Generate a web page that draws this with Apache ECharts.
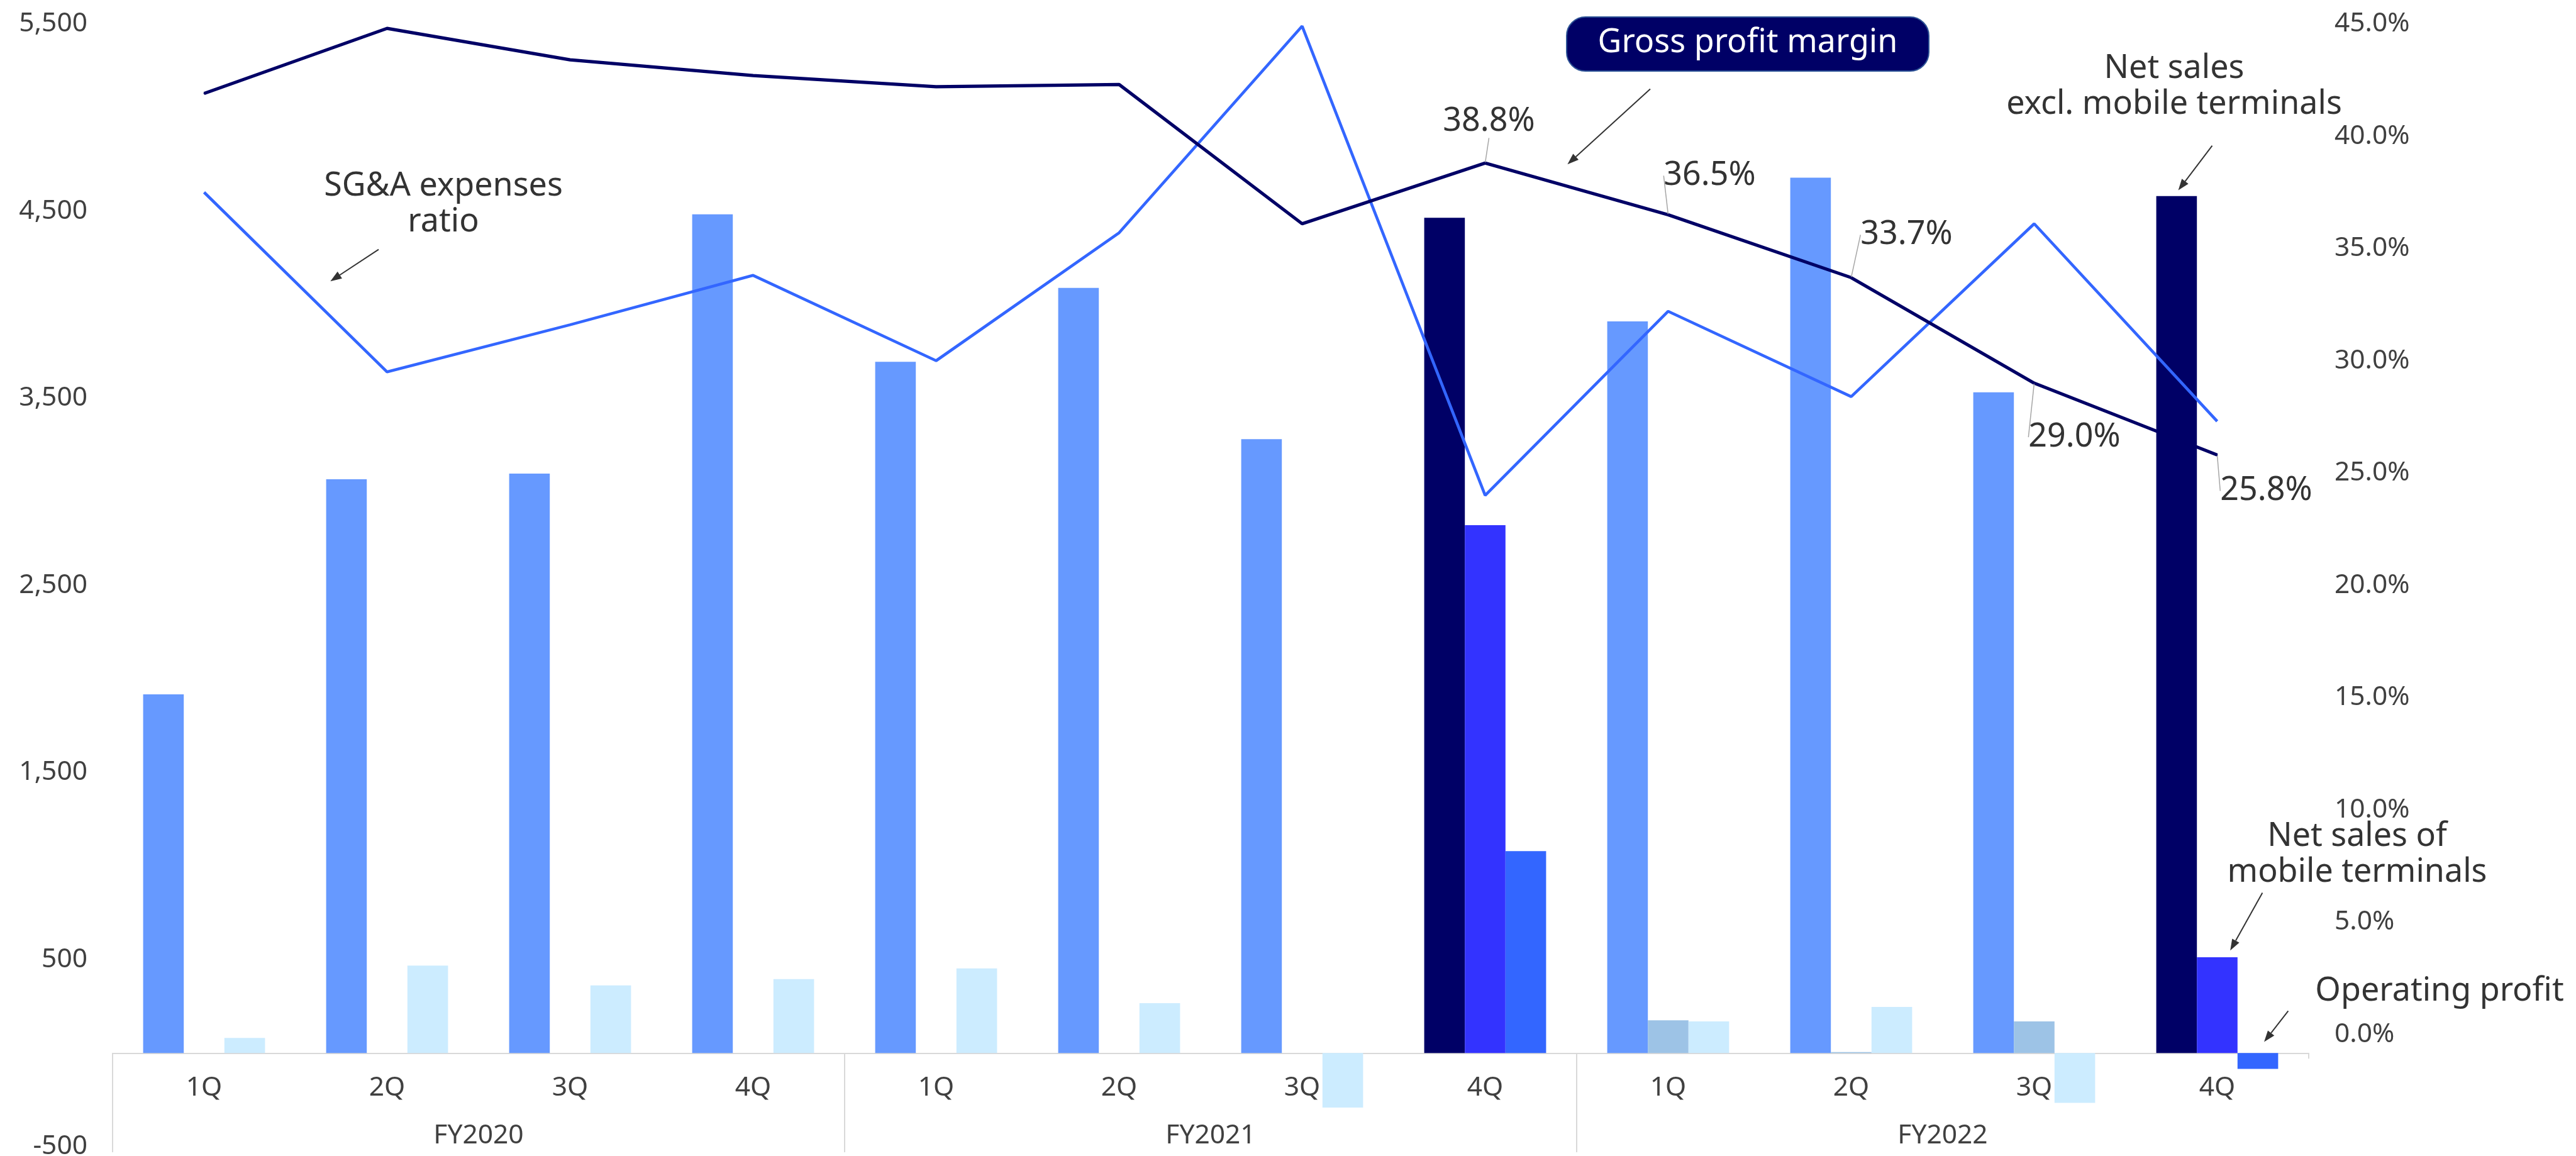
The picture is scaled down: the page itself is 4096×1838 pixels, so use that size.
<!DOCTYPE html>
<html>
<head>
<meta charset="utf-8">
<title>Quarterly results</title>
<script src="https://cdn.jsdelivr.net/npm/echarts@6.0.0/dist/echarts.min.js"></script>
<style>
  html, body { margin: 0; padding: 0; background: #ffffff; }
  #chart { width: 4096px; height: 1838px; }
</style>
</head>
<body>
<div id="chart"></div>
<script>
// ---- data ----
const fiscalYears = ['FY2020', 'FY2021', 'FY2022'];
const quarters = ['1Q', '2Q', '3Q', '4Q'];
const periods = fiscalYears.flatMap(fy => quarters.map(q => fy + ' ' + q));

// amounts (left axis)
const netSalesExclMobile = [1917, 3066, 3097, 4482, 3694, 4089, 3281, 4464, 3910, 4678, 3531, 4580];
const netSalesMobile     = [null, null, null, null, null, null, null, 2821, 175, 5, 169, 512];
const operatingProfit    = [81, 467, 361, 395, 452, 266, -292, 1079, 169, 246, -266, -85];

// ratios in % (right axis)
const grossProfitMargin = [41.9, 44.8, 43.4, 42.7, 42.2, 42.3, 36.1, 38.8, 36.5, 33.7, 29.0, 25.8];
const sgaExpensesRatio  = [37.5, 29.5, 31.6, 33.8, 30.0, 35.7, 44.9, 24.0, 32.2, 28.4, 36.1, 27.3];

// tick labels
const amountTicks = [-500, 500, 1500, 2500, 3500, 4500, 5500];
const ratioTicks = [0, 5, 10, 15, 20, 25, 30, 35, 40, 45];

// periods drawn in the stronger palette
const highlightedPeriods = ['FY2021 4Q', 'FY2022 4Q'];

// ---- styling ----
const FONT = '"Noto Sans", "Open Sans", sans-serif';
const TEXT = '#333333';
const AXIS_TEXT = '#404040';
const RULE = '#d9d9d9';

// where the gross-margin value labels sit relative to their point (dx, dy)
const marginLabelOffsets = {
  7: [6, -66],
  8: [66, -62],
  9: [88, -68],
  10: [64, 86],
  11: [78, 57]
};

const isHighlighted = i => highlightedPeriods.includes(periods[i]);
const barItems = (values, strong, soft) =>
  values.map((v, i) => ({ value: v, itemStyle: { color: isHighlighted(i) ? strong : soft } }));

// arrow = shaft + filled head, from tail to tip
function arrow(tail, tip) {
  const [x1, y1] = tail, [x2, y2] = tip;
  const a = Math.atan2(y2 - y1, x2 - x1);
  const L = 18, W = 6.5;
  const bx = x2 - L * Math.cos(a), by = y2 - L * Math.sin(a);
  return [
    { type: 'line', silent: true, shape: { x1, y1, x2: bx, y2: by },
      style: { stroke: TEXT, lineWidth: 2 } },
    { type: 'polygon', silent: true,
      shape: { points: [[x2, y2], [bx + W * Math.sin(a), by - W * Math.cos(a)], [bx - W * Math.sin(a), by + W * Math.cos(a)]] },
      style: { fill: TEXT } }
  ];
}

function note(text, x, y, color) {
  return {
    type: 'text', silent: true, x, y, z: 10,
    style: { text, fontSize: 52, fontFamily: FONT, fill: color || TEXT,
             align: 'center', verticalAlign: 'middle', lineHeight: 57 }
  };
}

// label positions along the period axis: centre of each quarter / each fiscal year
const quarterCentres = periods.map((_, i) => i + 0.5);
const yearCentres = fiscalYears.map((_, i) => i * quarters.length + quarters.length / 2);
const yearBoundaries = fiscalYears.map((_, i) => i * quarters.length);

const chart = echarts.init(document.getElementById('chart'), null, { renderer: 'canvas' });

const option = {
  animation: false,
  backgroundColor: '#ffffff',
  textStyle: { fontFamily: FONT },
  grid: { left: 179, right: 425, top: 38, bottom: 15, containLabel: false, outerBoundsMode: 'none' },
  xAxis: [
    {
      // period axis carrying the bars and lines, drawn along zero
      type: 'category',
      data: periods,
      position: 'bottom',
      boundaryGap: true,
      axisLine: { show: true, onZero: true, onZeroAxisIndex: 0, lineStyle: { color: RULE, width: 2 } },
      axisTick: { show: true, length: 9, interval: i => i === periods.length - 1, lineStyle: { color: RULE, width: 2 } },
      axisLabel: { show: false },
      splitLine: { show: false }
    },
    {
      // fiscal-year grouping row with separators between the years
      type: 'value',
      position: 'bottom',
      offset: 9,
      min: 0,
      max: periods.length,
      axisLine: { show: false, onZero: false },
      splitLine: { show: false },
      axisTick: {
        show: true, inside: true, length: 158,
        lineStyle: { color: RULE, width: 2 },
        customValues: yearBoundaries
      },
      axisLabel: {
        inside: true, margin: 4.5, fontSize: 42.5, color: AXIS_TEXT, fontFamily: FONT,
        customValues: yearCentres,
        formatter: v => fiscalYears[Math.floor(v / quarters.length)] || ''
      }
    },
    {
      // quarter names, just under the zero line
      type: 'value',
      position: 'bottom',
      offset: -149,
      min: 0,
      max: periods.length,
      axisLine: { show: false, onZero: false },
      axisTick: { show: false },
      splitLine: { show: false },
      axisLabel: {
        margin: 34, fontSize: 42.5, color: AXIS_TEXT, fontFamily: FONT,
        customValues: quarterCentres,
        formatter: v => quarters[Math.floor(v) % quarters.length]
      }
    }
  ],
  yAxis: [
    {
      type: 'value', position: 'left', min: -500, max: 5500, interval: 500,
      axisLine: { show: false, onZero: false }, axisTick: { show: false }, splitLine: { show: false },
      axisLabel: { margin: 40, fontSize: 42.5, color: AXIS_TEXT, fontFamily: FONT,
                   formatter: v => amountTicks.includes(v) ? v.toLocaleString('en-US') : '' }
    },
    {
      type: 'value', position: 'right', min: -5, max: 45, interval: 5,
      axisLine: { show: false, onZero: false }, axisTick: { show: false }, splitLine: { show: false },
      axisLabel: { margin: 41, fontSize: 42.5, color: AXIS_TEXT, fontFamily: FONT,
                   formatter: v => ratioTicks.includes(v) ? v.toFixed(1) + '%' : '' }
    }
  ],
  series: [
    {
      name: 'Net sales excl. mobile terminals', type: 'bar', xAxisIndex: 0, yAxisIndex: 0,
      barWidth: 64.6, barGap: '0%',
      data: barItems(netSalesExclMobile, '#000066', '#6699ff')
    },
    {
      name: 'Net sales of mobile terminals', type: 'bar', xAxisIndex: 0, yAxisIndex: 0,
      barWidth: 64.6, barGap: '0%',
      data: barItems(netSalesMobile, '#3333ff', '#9dc3e6')
    },
    {
      name: 'Operating profit', type: 'bar', xAxisIndex: 0, yAxisIndex: 0,
      barWidth: 64.6, barGap: '0%',
      data: barItems(operatingProfit, '#3366ff', '#ccecff')
    },
    {
      name: 'SG&A expenses ratio', type: 'line', xAxisIndex: 0, yAxisIndex: 1,
      symbol: 'none', z: 3,
      lineStyle: { color: '#3366ff', width: 4.6 },
      itemStyle: { color: '#3366ff' },
      data: sgaExpensesRatio
    },
    {
      name: 'Gross profit margin', type: 'line', xAxisIndex: 0, yAxisIndex: 1,
      symbol: 'circle', symbolSize: 2, showSymbol: true, showAllSymbol: true, z: 4,
      lineStyle: { color: '#000066', width: 5.2 },
      itemStyle: { color: '#000066' },
      label: {
        show: false, position: 'inside', fontSize: 52, color: TEXT, fontFamily: FONT,
        padding: [19, 130],
        formatter: p => Number(p.value).toFixed(1) + '%'
      },
      labelLine: { show: false, length2: 0, smooth: false, lineStyle: { color: '#a6a6a6', width: 1.5 } },
      labelLayout: p => {
        const o = marginLabelOffsets[p.dataIndex];
        return o ? { dx: o[0], dy: o[1] } : {};
      },
      data: grossProfitMargin.map((v, i) => (i in marginLabelOffsets)
        ? { value: v, label: { show: true }, labelLine: { show: true } }
        : v)
    }
  ],
  graphic: {
    elements: [
      note('SG&A expenses\nratio', 705, 325),
      ...arrow([602, 396.6], [525.3, 447.2]),

      { type: 'rect', silent: true, z: 9, shape: { x: 2491, y: 27, width: 576, height: 86, r: 30 },
        style: { fill: '#000066', stroke: '#2f5597', lineWidth: 2 } },
      note('Gross profit margin', 2779, 68, '#ffffff'),
      ...arrow([2624, 141.6], [2492.4, 261.3]),

      note('Net sales\nexcl. mobile terminals', 3457, 138),
      ...arrow([3517.5, 231.7], [3463.6, 302.6]),

      note('Net sales of\nmobile terminals', 3748, 1359),
      ...arrow([3597.4, 1419.5], [3546.2, 1511.3]),

      note('Operating profit', 3879, 1576),
      ...arrow([3638.4, 1607.4], [3600.1, 1656.6])
    ]
  }
};

chart.setOption(option);
</script>
</body>
</html>
